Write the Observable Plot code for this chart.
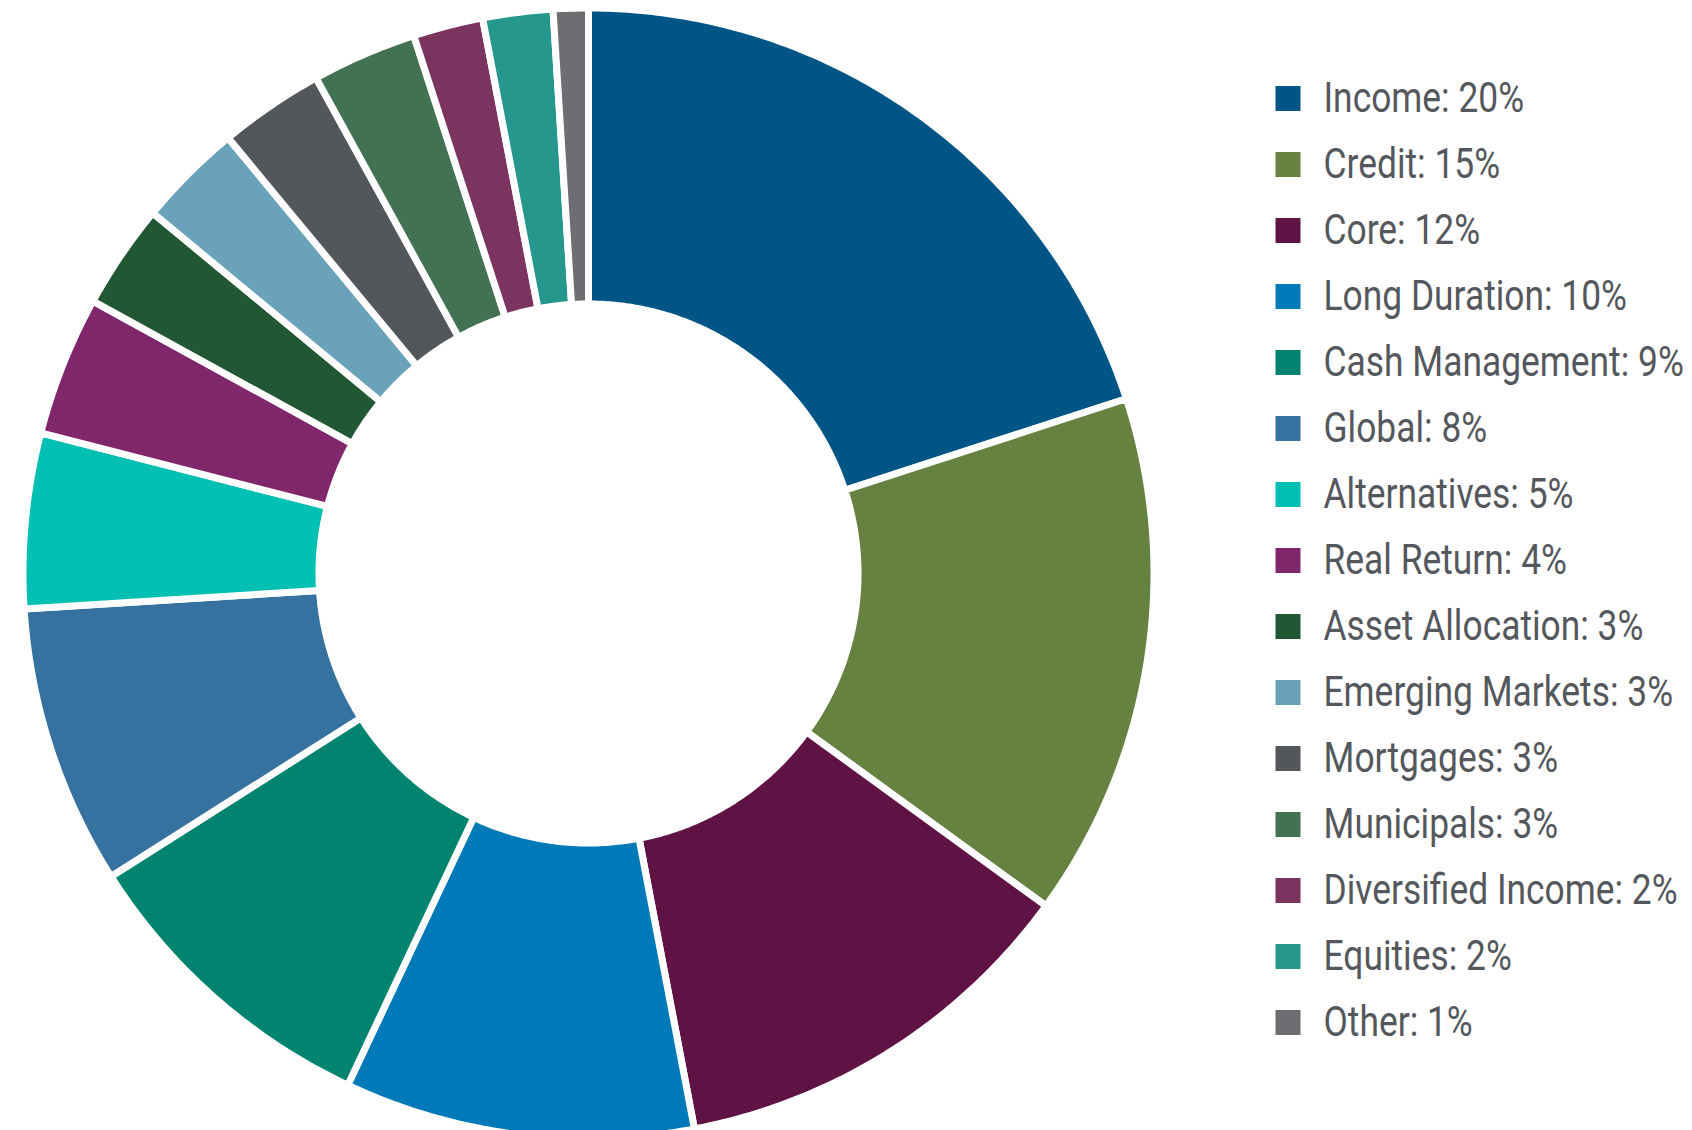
<!DOCTYPE html>
<html><head><meta charset="utf-8">
<script src="https://cdn.jsdelivr.net/npm/d3@7"></script>
<script src="https://cdn.jsdelivr.net/npm/@observablehq/plot@0.6"></script>
<style>
html,body{margin:0;padding:0;background:#fff;}
#wrap{display:flex;width:1692px;height:1130px;overflow:hidden;}
#wrap svg{display:block;flex:none;}
</style></head><body><div id="wrap"></div>
<script>
const categories = ["Income","Credit","Core","Long Duration","Cash Management","Global","Alternatives","Real Return","Asset Allocation","Emerging Markets","Mortgages","Municipals","Diversified Income","Equities","Other"];
const shares = [20,15,12,10,9,8,5,4,3,3,3,3,2,2,1];
const colors = ["#005587","#658240","#5f1244","#0079b8","#00836f","#3672a0","#00bfb3","#80276b","#215732","#6aa3b9","#53565a","#437252","#7b3460","#26978c","#6d6e71"];

const total = d3.sum(shares);
let cum = 0;
const arcs = categories.map((name, i) => {
  const a0 = cum / total * 2 * Math.PI; cum += shares[i];
  const a1 = cum / total * 2 * Math.PI;
  return {name, a0, a1};
});
const innerRatio = 0.4766;
const pts = [];
for (const {name, a0, a1} of arcs) {
  const n = Math.max(2, Math.ceil((a1 - a0) / (Math.PI / 360)));
  for (let k = 0; k <= n; k++) { const a = a0 + (a1 - a0) * k / n; pts.push({name, x: Math.sin(a), y: Math.cos(a)}); }
  for (let k = n; k >= 0; k--) { const a = a0 + (a1 - a0) * k / n; pts.push({name, x: innerRatio * Math.sin(a), y: innerRatio * Math.cos(a)}); }
}

const donut = Plot.plot({
  width: 1170, height: 1130, margin: 0,
  x: {domain: [-1, 1], range: [22.5, 1153.5], axis: null},
  y: {domain: [-1, 1], range: [1138.5, 7.5], axis: null},
  color: {domain: categories, range: colors},
  marks: [
    Plot.line(pts, {x: "x", y: "y", z: "name", fill: "name", stroke: "white", strokeWidth: 7, curve: "linear-closed", strokeLinejoin: "round"})
  ]
});

const legend = Plot.plot({
  width: 522, height: 1130, margin: 0,
  y: {type: "point", domain: categories, range: [97.5, 1021.5], padding: 0, axis: null},
  color: {domain: categories, range: colors},
  marks: [
    Plot.dot(categories, {y: d => d, fill: d => d, symbol: "square", r: 14.1, frameAnchor: "left", dx: 117.5, stroke: null}),
    Plot.text(categories, {y: d => d, text: (d, i) => `${d}: ${shares[i]}%`, frameAnchor: "left", dx: 153, textAnchor: "start", fontSize: 43, fill: "#54585d", fontFamily: "Roboto"})
  ]
});
legend.querySelectorAll("text").forEach(t => {
  const tr = t.getAttribute("transform");
  if (tr) t.setAttribute("transform", tr + " scale(0.823,1)");
  else { const x = +(t.getAttribute("x") || 0); t.setAttribute("transform", `translate(${x},0) scale(0.823,1) translate(${-x},0)`); }
});

document.getElementById("wrap").append(donut, legend);
</script></body></html>
